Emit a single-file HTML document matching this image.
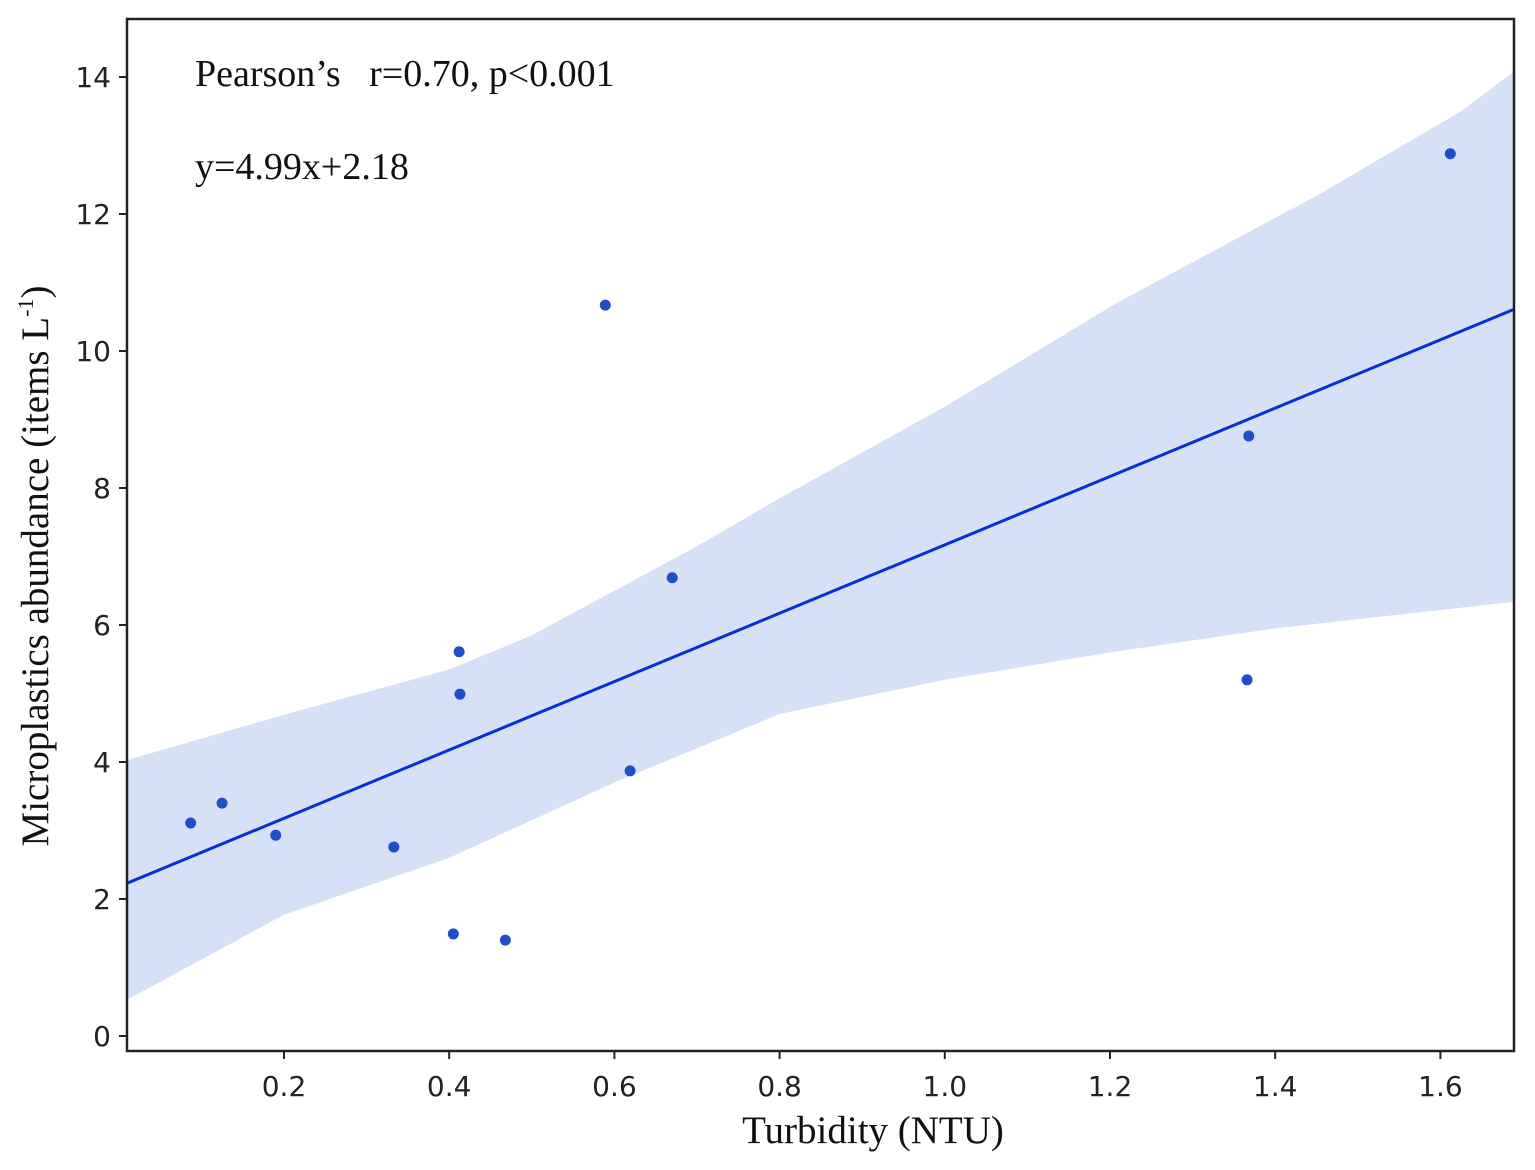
<!DOCTYPE html>
<html><head><meta charset="utf-8"><style>
html,body{margin:0;padding:0;background:#fff;}
svg{display:block;}
</style></head><body>
<svg id="chart" width="1535" height="1170" xmlns="http://www.w3.org/2000/svg">
<g id="band"></g>
<g id="line"></g>
<g id="pts"></g>
<rect x="127" y="19" width="1387" height="1032" fill="none" stroke="#222" stroke-width="2.5"/>
<g id="xt"></g>
<g id="yt"></g>
<text x="195" y="86" font-family="Liberation Serif, serif" font-size="38" fill="#111" xml:space="preserve">Pearson’s   r=0.70, p&lt;0.001</text>
<text x="195" y="179" font-family="Liberation Serif, serif" font-size="38" fill="#111">y=4.99x+2.18</text>
<text x="873" y="1143" text-anchor="middle" font-family="Liberation Serif, serif" font-size="39" fill="#111">Turbidity (NTU)</text>
<text transform="translate(48,566) rotate(-90)" text-anchor="middle" font-family="Liberation Serif, serif" font-size="39" fill="#111">Microplastics abundance (items L<tspan font-size="22" dy="-15">-1</tspan><tspan dy="15">)</tspan></text>
</svg>
<script>
const xs = [0.087,0.125,0.19,0.333,0.405,0.468,0.412,0.413,0.589,0.619,0.670,1.368,1.366,1.612];
const ys = [3.11,3.40,2.93,2.76,1.49,1.40,5.61,4.99,10.67,3.87,6.69,8.76,5.20,12.88];
const upperX = [0.01,0.2,0.4,0.5,0.6,0.7,0.8,0.999,1.208,1.452,1.625,1.69];
const upperY = [4.03,4.69,5.35,5.85,6.5,7.15,7.85,9.18,10.7,12.28,13.5,14.09];
const lowerX = [0.01,0.2,0.4,0.6,0.8,1.0,1.2,1.4,1.69];
const lowerY = [0.53,1.77,2.6,3.7,4.7,5.2,5.6,5.95,6.34];
const slope = 4.99, intercept = 2.18;
const xTicks = [0.2,0.4,0.6,0.8,1.0,1.2,1.4,1.6];
const xTickLabels = ["0.2","0.4","0.6","0.8","1.0","1.2","1.4","1.6"];
const yTicks = [0,2,4,6,8,10,12,14];
const yTickLabels = ["0","2","4","6","8","10","12","14"];
const xMin = 0.01, xMax = 1.69;

const NS="http://www.w3.org/2000/svg";
function X(v){return 284+(v-0.2)*826;}
function Y(v){return 1036-v*68.5;}
function mk(tag,attrs,parent){const e=document.createElementNS(NS,tag);for(const k in attrs)e.setAttribute(k,attrs[k]);document.getElementById(parent).appendChild(e);return e;}

let d="M"+X(upperX[0])+","+Y(upperY[0]);
for(let i=1;i<upperX.length;i++) d+=" L"+X(upperX[i])+","+Y(upperY[i]);
for(let i=lowerX.length-1;i>=0;i--) d+=" L"+X(lowerX[i])+","+Y(lowerY[i]);
d+="Z";
const band=mk('path',{d:d,fill:'#d6e1f7'},'band');



const ln=mk('line',{x1:X(xMin),y1:Y(slope*xMin+intercept),x2:X(xMax),y2:Y(slope*xMax+intercept),stroke:'#0a2fd0','stroke-width':3},'line');



for(let i=0;i<xs.length;i++){
  const c=mk('circle',{cx:X(xs[i]),cy:Y(ys[i]),r:5.5,fill:'#1f4fc8'},'pts');
  
  
}
for(let i=0;i<xTicks.length;i++){
  const t=mk('line',{x1:X(xTicks[i]),x2:X(xTicks[i]),y1:1051,y2:1059,stroke:'#222','stroke-width':2},'xt');
  
  
  const l=mk('text',{x:X(xTicks[i]),y:1096,'text-anchor':'middle','font-family':'DejaVu Sans, sans-serif','font-size':28,fill:'#222'},'xt');
  l.textContent=xTickLabels[i];
  
  
}
for(let i=0;i<yTicks.length;i++){
  const t=mk('line',{x1:119,x2:127,y1:Y(yTicks[i]),y2:Y(yTicks[i]),stroke:'#222','stroke-width':2},'yt');
  
  
  const l=mk('text',{x:111,y:Y(yTicks[i])+10,'text-anchor':'end','font-family':'DejaVu Sans, sans-serif','font-size':28,fill:'#222'},'yt');
  l.textContent=yTickLabels[i];
  
  
}
</script>
</body></html>
